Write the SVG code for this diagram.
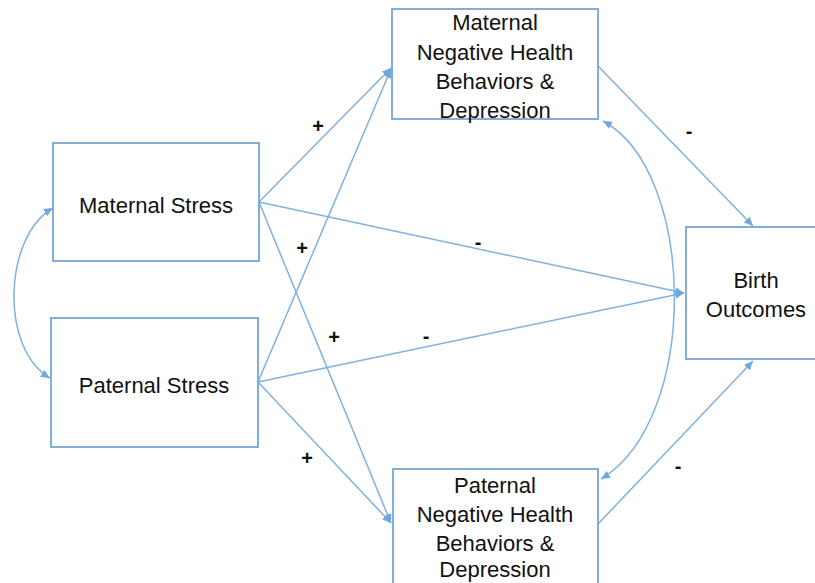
<svg xmlns="http://www.w3.org/2000/svg" width="815" height="583" viewBox="0 0 815 583">
  <defs>
    <marker id="head" viewBox="0 0 10 10" refX="10" refY="5" markerWidth="9" markerHeight="9" markerUnits="userSpaceOnUse" orient="auto-start-reverse">
      <path d="M0,0.5 L10,5 L0,9.5 z" fill="#6fa8dc"/>
    </marker>
  </defs>
  <style>
    .box { fill: #ffffff; stroke: #76a5d6; stroke-width: 1.8; }
    .lbl { font-family: "Liberation Sans", Arial, sans-serif; font-size: 22px; fill: #111111; text-anchor: middle; }
    .sign { font-family: "Liberation Sans", Arial, sans-serif; font-size: 20px; font-weight: bold; fill: #111111; text-anchor: middle; }
    .edge { fill: none; stroke: #7fb2e0; stroke-width: 1.5; marker-end: url(#head); }
    .both { marker-start: url(#head); }
  </style>
  <rect width="815" height="583" fill="#ffffff"/>

  <!-- connectors -->
  <g id="connectors">
    <path class="edge" d="M259,202 L391,68"/>
    <path class="edge" d="M259,202 L391,523"/>
    <path class="edge" d="M259,202 L684,293"/>
    <path class="edge" d="M258,382 L391,69"/>
    <path class="edge" d="M258,382 L391,523"/>
    <path class="edge" d="M258,382 L684,293"/>
    <path class="edge" d="M598,66 L753,226"/>
    <path class="edge" d="M598,524 L753,361"/>
    <path class="edge both" d="M603,121 C697,172 700,420 601,479"/>
    <path class="edge both" d="M53,208 C4,236 -1,348 50,378"/>
  </g>

  <g id="maternal-stress">
    <rect class="box" x="53" y="143" width="206" height="118"/>
    <text class="lbl" x="156" y="213">Maternal Stress</text>
  </g>

  <g id="paternal-stress">
    <rect class="box" x="51" y="318" width="207" height="129"/>
    <text class="lbl" x="154" y="393">Paternal Stress</text>
  </g>

  <g id="maternal-behaviors">
    <rect class="box" x="392" y="9" width="206" height="110"/>
    <text class="lbl" x="495" y="30">Maternal</text>
    <text class="lbl" x="495" y="60">Negative Health</text>
    <text class="lbl" x="495" y="89">Behaviors &amp;</text>
    <text class="lbl" x="495" y="118">Depression</text>
  </g>

  <g id="paternal-behaviors">
    <rect class="box" x="393" y="469" width="205" height="130"/>
    <text class="lbl" x="495" y="493">Paternal</text>
    <text class="lbl" x="495" y="522">Negative Health</text>
    <text class="lbl" x="495" y="551">Behaviors &amp;</text>
    <text class="lbl" x="495" y="577">Depression</text>
  </g>

  <g id="birth-outcomes">
    <rect class="box" x="686" y="227" width="145" height="132"/>
    <text class="lbl" x="756" y="288">Birth</text>
    <text class="lbl" x="756" y="317">Outcomes</text>
  </g>

  <!-- path signs -->
  <g id="signs">
    <text class="sign" x="318" y="133">+</text>
    <text class="sign" x="302" y="255">+</text>
    <text class="sign" x="334" y="344">+</text>
    <text class="sign" x="307" y="465">+</text>
    <text class="sign" x="478" y="249">-</text>
    <text class="sign" x="426" y="343">-</text>
    <text class="sign" x="689" y="138">-</text>
    <text class="sign" x="678" y="473">-</text>
  </g>
</svg>
